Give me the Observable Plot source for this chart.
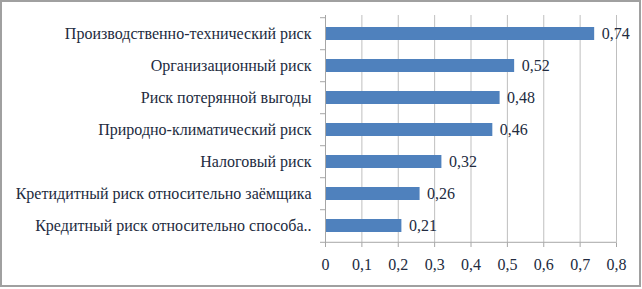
<!DOCTYPE html>
<html>
<head>
<meta charset="utf-8">
<script src="https://cdn.jsdelivr.net/npm/d3@7"></script>
<script src="https://cdn.jsdelivr.net/npm/@observablehq/plot@0.6"></script>
<style>
  html, body { margin: 0; padding: 0; background: #fff; }
  #frame { position: absolute; left: 0; top: 0; width: 641px; height: 287px; box-sizing: border-box; border: 2px solid #a0a0a0; }
  #chart { position: absolute; left: 0; top: 0; }
</style>
</head>
<body>
<div id="frame"></div>
<div id="chart"></div>
<script>
const categories = [
  "Производственно-технический риск",
  "Организационный риск",
  "Риск потерянной выгоды",
  "Природно-климатический риск",
  "Налоговый риск",
  "Кретидитный риск относительно заёмщика",
  "Кредитный риск относительно способа.."
];
const values = [0.74, 0.52, 0.48, 0.46, 0.32, 0.26, 0.21];
const xTicks = [0, 0.1, 0.2, 0.3, 0.4, 0.5, 0.6, 0.7, 0.8];

const data = categories.map((c, i) => ({category: c, value: values[i]}));
const fmt = d => String(d).replace(".", ",");

const W = 642, H = 289;
const mTop = 15, mBottom = 46, mLeft = 325, mRight = 26;
const step = (H - mTop - mBottom) / categories.length;
const textColor = "#222b40";
const gridColor = "#bfbfbf";
const axisColor = "#a6a6a6";
const FONT = "Liberation Serif";

const chart = Plot.plot({
  width: W,
  height: H,
  marginTop: mTop,
  marginBottom: mBottom,
  marginLeft: mLeft,
  marginRight: mRight,
  style: {fontFamily: FONT, fontSize: "16px", color: textColor, background: "transparent"},
  x: {domain: [0, 0.8], label: null},
  y: {domain: categories, paddingInner: 0.6, paddingOuter: 0.3, label: null},
  marks: [
    Plot.gridX(xTicks.filter(d => d > 0), {stroke: gridColor, strokeOpacity: 1}),
    Plot.barX(data, {y: "category", x: "value", fill: "#4f81bd"}),
    Plot.ruleX([0], {stroke: axisColor}),
    Plot.ruleY([0], {y: () => categories[categories.length - 1], dy: step / 2, x1: 0, x2: 0.8, stroke: axisColor}),
    Plot.axisY({tickSize: 0, tickPadding: 14, fill: textColor, fontSize: 16, fontFamily: FONT, label: null}),
    Plot.axisY({ticks: categories, tickSize: 5, text: null, stroke: axisColor, dy: -step / 2, label: null}),
    Plot.axisY({ticks: [categories[categories.length - 1]], tickSize: 5, text: null, stroke: axisColor, dy: step / 2, label: null}),
    Plot.axisX({ticks: xTicks, tickFormat: fmt, tickSize: 4, tickPadding: 11, stroke: axisColor, fill: textColor, fontSize: 16, fontFamily: FONT, label: null}),
    Plot.text(data, {y: "category", x: "value", text: d => fmt(d.value), dx: 7, textAnchor: "start", fill: textColor, fontSize: 16, fontFamily: FONT})
  ]
});
document.getElementById("chart").appendChild(chart);
</script>
</body>
</html>
